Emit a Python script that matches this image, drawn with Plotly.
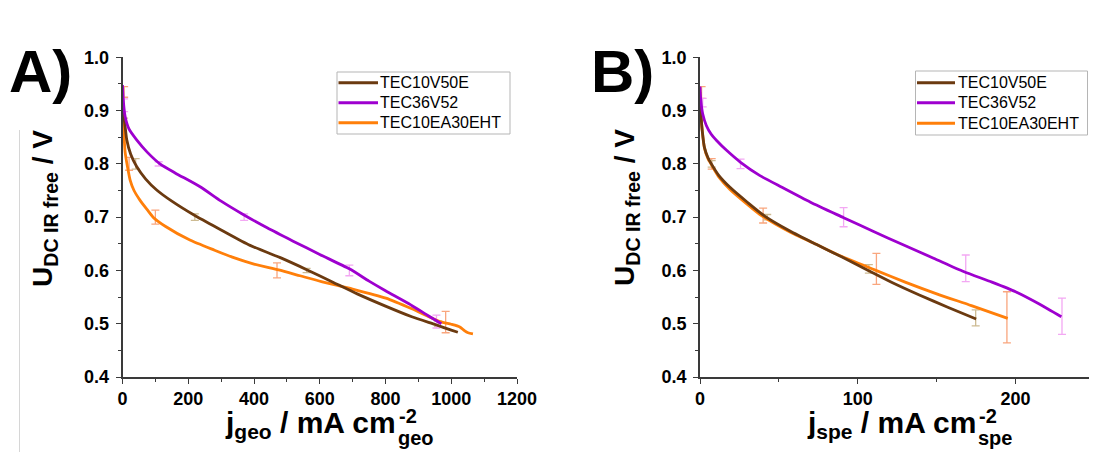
import plotly.graph_objects as go

# The page body has an 8 px margin, so the figure is drawn 8 px in from the window corner.
OFF = 8
W, H = 1097 - OFF, 452 - OFF

# ---------------- Panel A data (j_geo) ----------------
a_brown_x = [0, 3, 8, 13, 25, 43, 70, 104, 150, 220, 300, 388, 480, 562, 640, 714, 800, 880, 953, 1000, 1020]
a_brown_y = [0.91, 0.895, 0.87, 0.845, 0.818, 0.795, 0.772, 0.751, 0.73, 0.703, 0.676, 0.647, 0.624, 0.601, 0.578, 0.556, 0.533, 0.513, 0.498, 0.488, 0.484]
a_purple_x = [0, 3, 8, 20, 43, 75, 114, 160, 236, 300, 367, 440, 519, 600, 690, 750, 800, 870, 930, 970]
a_purple_y = [0.948, 0.915, 0.889, 0.865, 0.845, 0.822, 0.80, 0.783, 0.757, 0.73, 0.705, 0.68, 0.655, 0.63, 0.603, 0.58, 0.562, 0.538, 0.515, 0.50]
a_orange_x = [0, 2, 5, 8, 15, 23, 35, 53, 75, 93, 130, 205, 280, 334, 400, 475, 540, 605, 700, 801, 880, 966, 1000, 1026, 1040, 1051, 1066]
a_orange_y = [0.935, 0.89, 0.85, 0.822, 0.795, 0.77, 0.75, 0.732, 0.714, 0.70, 0.683, 0.657, 0.638, 0.625, 0.612, 0.601, 0.59, 0.579, 0.565, 0.548, 0.528, 0.504, 0.499, 0.494, 0.487, 0.483, 0.481]

a_brown_ex = [5, 40, 220, 560, 960]
a_brown_ey = [0.88, 0.80, 0.70, 0.60, 0.50]
a_brown_ee = [0.006, 0.01, 0.006, 0.004, 0.005]
a_purple_ex = [5, 110, 370, 690, 955]
a_purple_ey = [0.91, 0.80, 0.70, 0.60, 0.504]
a_purple_ee = [0.012, 0.004, 0.006, 0.01, 0.012]
a_orange_ex = [5, 20, 100, 470, 983]
a_orange_ey = [0.935, 0.80, 0.70, 0.60, 0.503]
a_orange_ee = [0.01, 0.012, 0.013, 0.014, 0.02]

# ---------------- Panel B data (j_spe) ----------------
b_brown_x = [0, 0.7, 1.5, 2.8, 5, 7.2, 12, 19, 30, 41, 57, 73.6, 90, 106, 122, 139, 157, 175]
b_brown_y = [0.925, 0.888, 0.86, 0.831, 0.812, 0.80, 0.778, 0.756, 0.728, 0.702, 0.674, 0.649, 0.625, 0.601, 0.577, 0.554, 0.531, 0.509]
b_orange_x = [0, 0.5, 1.5, 2.8, 5, 7.5, 12, 19, 30, 38, 57, 73.6, 90, 110.7, 130, 150, 172, 195]
b_orange_y = [0.935, 0.9, 0.86, 0.83, 0.81, 0.797, 0.775, 0.752, 0.724, 0.705, 0.672, 0.649, 0.626, 0.601, 0.578, 0.556, 0.534, 0.51]
b_purple_x = [0, 0.5, 1.7, 4, 7, 10.5, 17, 25.7, 38, 51.9, 70, 91, 110, 128, 148, 167, 185, 200, 215, 229]
b_purple_y = [0.945, 0.92, 0.894, 0.872, 0.856, 0.844, 0.825, 0.803, 0.778, 0.756, 0.728, 0.699, 0.673, 0.649, 0.623, 0.598, 0.578, 0.56, 0.537, 0.513]

b_brown_ex = [7.4, 42.6, 107, 174.7]
b_brown_ey = [0.80, 0.70, 0.603, 0.511]
b_brown_ee = [0.006, 0.005, 0.008, 0.015]
b_orange_ex = [1, 7.4, 40, 111.8, 194.5]
b_orange_ey = [0.934, 0.80, 0.703, 0.603, 0.512]
b_orange_ee = [0.011, 0.01, 0.014, 0.029, 0.048]
b_purple_ex = [1.7, 25.7, 91, 168.4, 229.4]
b_purple_ey = [0.915, 0.80, 0.70, 0.604, 0.514]
b_purple_ee = [0.008, 0.009, 0.018, 0.025, 0.034]

names = ["TEC10V50E", "TEC36V52", "TEC10EA30EHT"]
keys = ["brown", "purple", "orange"]
line_colors = {"brown": "#6B3A10", "purple": "#9E00CF", "orange": "#FF7F0A"}
err_colors = {"brown": "#CDBB92", "purple": "#F3A8F3", "orange": "#F9A67E"}

FONT = "Liberation Sans, Arial, sans-serif"

fig = go.Figure()


def add_panel(xa, ya, series):
    label = dict(zip(keys, names))
    for key, (lx, ly, ex, ey, ee) in series:
        fig.add_trace(go.Scatter(
            x=ex, y=ey, mode="markers", marker=dict(size=1, color="rgba(0,0,0,0)"),
            error_y=dict(type="data", array=ee, visible=True, color=err_colors[key],
                         thickness=1.3, width=4),
            xaxis=xa, yaxis=ya, showlegend=False, hoverinfo="skip"))
    for key, (lx, ly, ex, ey, ee) in series:
        fig.add_trace(go.Scatter(
            x=lx, y=ly, mode="lines", name=label[key],
            line=dict(color=line_colors[key], width=2.8, shape="spline", smoothing=0.6),
            xaxis=xa, yaxis=ya, showlegend=False))


add_panel("x", "y", [
    ("orange", (a_orange_x, a_orange_y, a_orange_ex, a_orange_ey, a_orange_ee)),
    ("brown", (a_brown_x, a_brown_y, a_brown_ex, a_brown_ey, a_brown_ee)),
    ("purple", (a_purple_x, a_purple_y, a_purple_ex, a_purple_ey, a_purple_ee)),
])
add_panel("x2", "y2", [
    ("orange", (b_orange_x, b_orange_y, b_orange_ex, b_orange_ey, b_orange_ee)),
    ("brown", (b_brown_x, b_brown_y, b_brown_ex, b_brown_ey, b_brown_ee)),
    ("purple", (b_purple_x, b_purple_y, b_purple_ex, b_purple_ey, b_purple_ee)),
])

AX = "#3a3a3a"
tickfont = dict(family=FONT, size=18, color="black", weight="bold")


def fx(sx):
    return (sx - OFF) / W


def fy(sy):
    return 1 - (sy - OFF) / H


def xaxis(rng, dtick, mdtick, dom, anchor):
    return dict(range=rng, dtick=dtick, domain=dom, anchor=anchor, showline=True, linecolor=AX,
                linewidth=1.5, ticks="outside", ticklen=5, tickwidth=1.3, tickcolor=AX,
                showgrid=False, zeroline=False, tickfont=tickfont, automargin=False,
                ticklabelstandoff=0,
                minor=dict(dtick=mdtick, ticks="outside", ticklen=3, tickwidth=1.1, tickcolor=AX,
                           showgrid=False))


def yaxis(dom, anchor):
    return dict(range=[0.4, 1.0], dtick=0.1, tickformat=".1f", domain=dom, anchor=anchor,
                showline=True, linecolor=AX, linewidth=1.5, ticks="outside", ticklen=5,
                tickwidth=1.3, tickcolor=AX, showgrid=False, zeroline=False, tickfont=tickfont,
                automargin=False, ticklabelstandoff=3,
                minor=dict(dtick=0.05, ticks="outside", ticklen=3, tickwidth=1.1, tickcolor=AX,
                           showgrid=False))


ydom = [fy(377), fy(57.3)]
fig.update_layout(
    width=W, height=H,
    margin=dict(l=0, r=0, t=0, b=0, pad=0),
    paper_bgcolor="white", plot_bgcolor="white",
    font=dict(family=FONT, color="black"),
    xaxis=xaxis([0, 1200], 200, 100, [fx(122.5), fx(517)], "y"),
    yaxis=yaxis(ydom, "x"),
    xaxis2=xaxis([0, 250], 100, 50, [fx(700), fx(1094.5)], "y2"),
    yaxis2=yaxis(ydom, "x2"),
    showlegend=False,
)


def ann(text, x, y, size, xanchor="center", yanchor="middle", angle=0, weight="bold"):
    fig.add_annotation(text=text, x=fx(x), y=fy(y), xref="paper", yref="paper",
                       xanchor=xanchor, yanchor=yanchor, textangle=angle, showarrow=False,
                       borderpad=0, font=dict(family=FONT, size=size, color="black", weight=weight))


# panel letters
ann("A)", 8, 71, 60, xanchor="left")
ann("B)", 590, 71, 60, xanchor="left")

# y titles
ann("U<sub>DC IR free</sub> / V", 45, 209, 28, angle=-90)
ann("U<sub>DC IR free</sub> / V", 626, 208, 28, angle=-90)

# x titles (main part + stacked super/subscripts)
ann("j<sub>geo</sub> / mA cm", 397, 424, 30, xanchor="right")
ann("-2", 398, 416, 20, xanchor="left")
ann("geo", 397, 438, 20, xanchor="left")

ann("j<sub>spe</sub> / mA cm", 977, 424, 30, xanchor="right")
ann("-2", 978, 416, 20, xanchor="left")
ann("spe", 977, 438, 20, xanchor="left")


# legends (box, line samples, labels)
def legend(x0, y0, x1, y1, rows_y, sample_x0, sample_x1, text_x):
    fig.add_shape(type="rect", xref="paper", yref="paper", x0=fx(x0), x1=fx(x1), y0=fy(y1), y1=fy(y0),
                  line=dict(color="#b5b5b5", width=1), fillcolor="white", layer="above")
    for key, name, ry in zip(keys, names, rows_y):
        fig.add_shape(type="line", xref="paper", yref="paper", x0=fx(sample_x0), x1=fx(sample_x1),
                      y0=fy(ry), y1=fy(ry), line=dict(color=line_colors[key], width=3), layer="above")
        ann(name, text_x, ry, 16, xanchor="left", weight="normal")


legend(337, 72, 510, 134, [82.7, 102.7, 122.7], 338.5, 378, 379)
legend(915.5, 71, 1087.5, 135, [82.7, 102.7, 123.3], 917, 955, 957)

# faint page border line at left
fig.add_shape(type="line", xref="paper", yref="paper", x0=fx(19.5), x1=fx(19.5), y0=fy(130), y1=0,
              line=dict(color="#d6d6d6", width=1))

fig.write_html("out.html")
